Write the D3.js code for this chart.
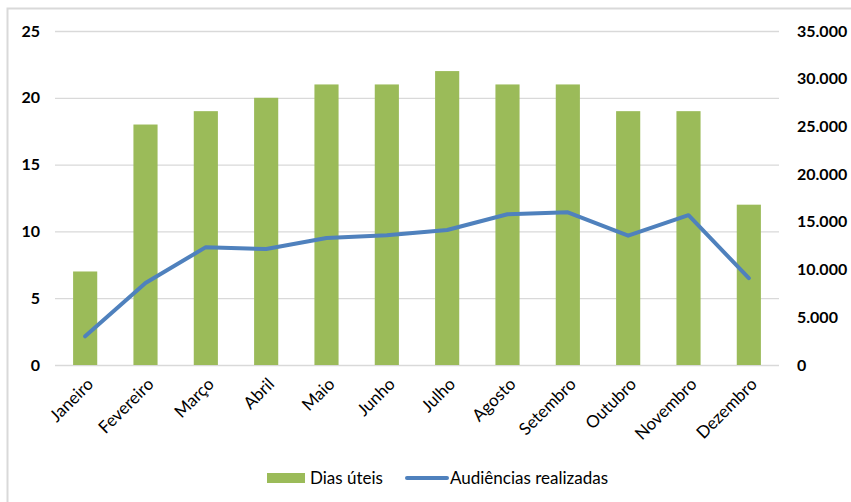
<!DOCTYPE html>
<html>
<head>
<meta charset="utf-8">
<script src="https://cdn.jsdelivr.net/npm/d3@7"></script>
<style>
  html, body { margin: 0; padding: 0; background: #fff; }
  svg { display: block; }
  text { font-family: Lato, "Open Sans", sans-serif; fill: #000; }
</style>
</head>
<body>
<svg id="chart" width="851" height="502"></svg>
<script>
// Monthly working days vs. hearings held
const months = ["Janeiro", "Fevereiro", "Março", "Abril", "Maio", "Junho",
                "Julho", "Agosto", "Setembro", "Outubro", "Novembro", "Dezembro"];
const diasUteis = [7, 18, 19, 20, 21, 21, 22, 21, 21, 19, 19, 12];
const audiencias = [3000, 8600, 12350, 12150, 13300, 13600, 14150, 15800, 16000, 13550, 15700, 9100];
const leftTicks = [0, 5, 10, 15, 20, 25];
const rightTicks = [0, 5000, 10000, 15000, 20000, 25000, 30000, 35000];
const seriesNames = ["Dias úteis", "Audiências realizadas"];

const W = 851, H = 502;
const plot = { left: 55, right: 779, top: 31, bottom: 365 };
const green = "#9BBB59", blue = "#4F81BD", grid = "#D9D9D9";

const svg = d3.select("#chart");

// chart frame (left and top edges)
svg.append("path")
  .attr("d", `M7.5,${H} V8.5 H${W}`)
  .attr("fill", "none")
  .attr("stroke", grid)
  .attr("stroke-width", 2);

const x = d3.scaleBand().domain(months).range([plot.left, plot.right]).paddingInner(0.6).paddingOuter(0.3);
const xc = d3.scalePoint().domain(months).range([plot.left, plot.right]).padding(0.5);
const yL = d3.scaleLinear().domain([0, 25]).range([plot.bottom, plot.top]);
const yR = d3.scaleLinear().domain([0, 35000]).range([plot.bottom, plot.top]);

// gridlines
svg.append("g")
  .attr("transform", `translate(${plot.left},0)`)
  .call(d3.axisLeft(yL).tickValues(leftTicks).tickSize(-(plot.right - plot.left)).tickFormat(""))
  .call(g => g.select(".domain").remove())
  .call(g => g.selectAll("line").attr("stroke", grid).attr("stroke-width", 1.3));

// left axis labels
svg.append("g")
  .attr("transform", `translate(40,0)`)
  .call(d3.axisLeft(yL).tickValues(leftTicks).tickSize(0).tickPadding(0))
  .call(g => g.select(".domain").remove())
  .call(g => g.selectAll("text")
    .attr("font-size", 16).attr("font-weight", "bold")
    .style("font-family", "Lato, sans-serif").attr("fill", "#000"));

// right axis labels
const fmt = v => d3.format(",")(v).replace(/,/g, ".");
svg.append("g")
  .attr("transform", `translate(797,0)`)
  .call(d3.axisRight(yR).tickValues(rightTicks).tickSize(0).tickPadding(0).tickFormat(fmt))
  .call(g => g.select(".domain").remove())
  .call(g => g.selectAll("text")
    .attr("font-size", 16).attr("font-weight", "bold")
    .style("font-family", "Lato, sans-serif").attr("fill", "#000"));

// bars
svg.append("g").selectAll("rect")
  .data(months)
  .join("rect")
  .attr("x", d => x(d))
  .attr("width", x.bandwidth())
  .attr("y", (d, i) => yL(diasUteis[i]))
  .attr("height", (d, i) => yL(0) - yL(diasUteis[i]))
  .attr("fill", green);

// line
const line = d3.line()
  .x((d, i) => xc(months[i]))
  .y(d => yR(d));
svg.append("path")
  .datum(audiencias)
  .attr("d", line)
  .attr("fill", "none")
  .attr("stroke", blue)
  .attr("stroke-width", 4)
  .attr("stroke-linejoin", "round")
  .attr("stroke-linecap", "round");

// x axis labels, rotated
svg.append("g").selectAll("text")
  .data(months)
  .join("text")
  .attr("transform", d => `translate(${xc(d) + 5},${plot.bottom + 16}) rotate(-45)`)
  .attr("text-anchor", "end")
  .attr("dy", "0.35em")
  .attr("font-size", 17)
  .text(d => d);

// legend
const lg = svg.append("g");
lg.append("rect").attr("x", 267).attr("y", 473).attr("width", 38).attr("height", 10).attr("fill", green);
lg.append("text").attr("x", 310).attr("y", 484).attr("font-size", 17).text(seriesNames[0]);
lg.append("line").attr("x1", 407).attr("x2", 447).attr("y1", 478).attr("y2", 478)
  .attr("stroke", blue).attr("stroke-width", 4).attr("stroke-linecap", "round");
lg.append("text").attr("x", 450).attr("y", 484).attr("font-size", 17).text(seriesNames[1]);
</script>
</body>
</html>
